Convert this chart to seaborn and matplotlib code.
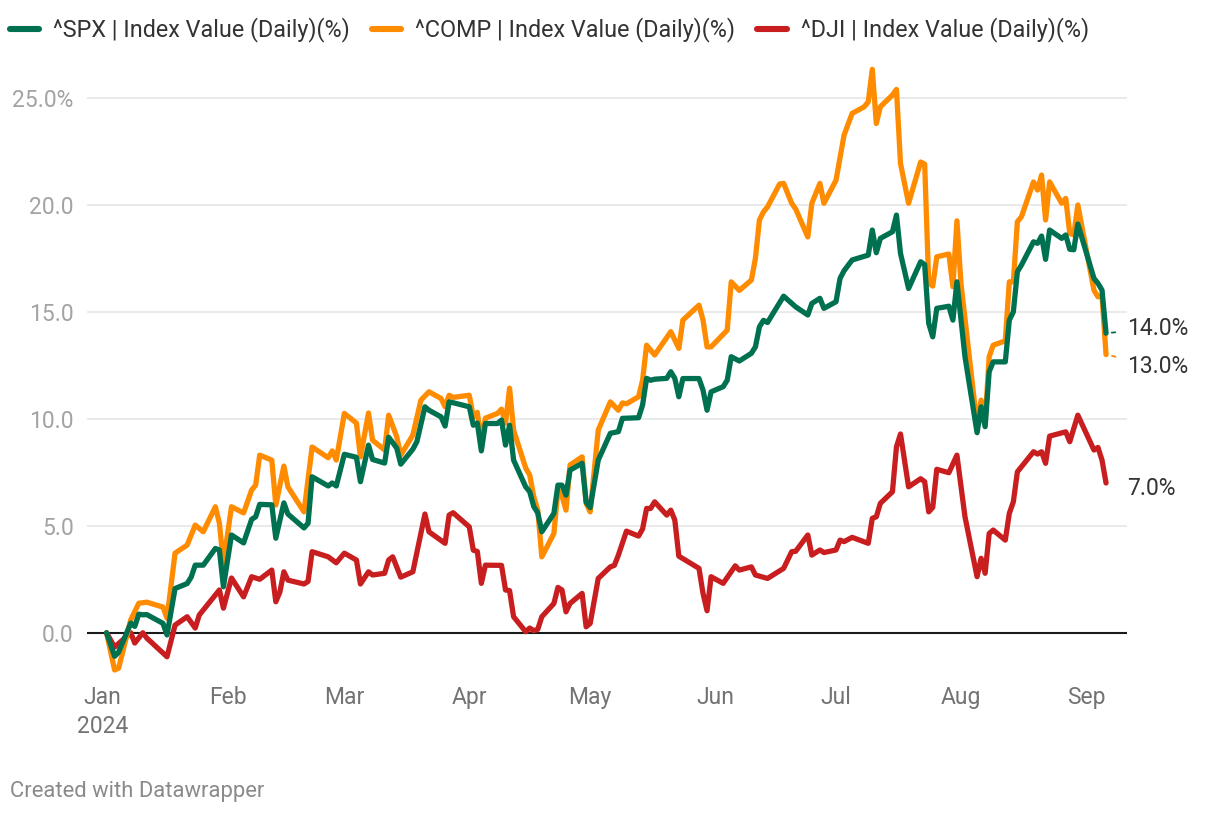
import pandas as pd
import matplotlib.pyplot as plt
import seaborn as sns
from matplotlib.lines import Line2D

# --- DATA (% change since 2 Jan 2024) ---
spx_dates = ["01-02", "01-04", "01-05", "01-08", "01-09", "01-10", "01-11", "01-12", "01-16", "01-17",
             "01-19", "01-22", "01-23", "01-24", "01-26", "01-29", "01-30", "01-31", "02-02", "02-05",
             "02-07", "02-08", "02-09", "02-12", "02-13", "02-15", "02-16", "02-20", "02-21", "02-22",
             "02-26", "02-27", "02-28", "03-01", "03-04", "03-05", "03-07", "03-08", "03-11", "03-12",
             "03-14", "03-15", "03-18", "03-19", "03-21", "03-22", "03-25", "03-26", "03-27", "03-28",
             "04-01", "04-02", "04-03", "04-04", "04-05", "04-08", "04-09", "04-10", "04-11", "04-12",
             "04-15", "04-16", "04-17", "04-18", "04-19", "04-22", "04-23", "04-24", "04-25", "04-26",
             "04-29", "04-30", "05-01", "05-03", "05-06", "05-08", "05-09", "05-13", "05-14", "05-15",
             "05-16", "05-17", "05-20", "05-21", "05-22", "05-23", "05-24", "05-28", "05-29", "05-30",
             "05-31", "06-03", "06-04", "06-05", "06-07", "06-10", "06-11", "06-12", "06-13", "06-14",
             "06-18", "06-21", "06-24", "06-25", "06-27", "06-28", "07-01", "07-02", "07-03", "07-05",
             "07-09", "07-10", "07-11", "07-12", "07-15", "07-16", "07-17", "07-19", "07-22", "07-23",
             "07-24", "07-25", "07-26", "07-29", "07-30", "07-31", "08-02", "08-05", "08-06", "08-07",
             "08-08", "08-09", "08-12", "08-13", "08-14", "08-15", "08-16", "08-19", "08-20", "08-21",
             "08-22", "08-23", "08-26", "08-27", "08-28", "08-29", "08-30", "09-03", "09-04", "09-05",
             "09-06"]
spx_values = [0.0, -1.1, -0.9, 0.45, 0.3, 0.87, 0.84, 0.85, 0.44, -0.1,
              2.07, 2.3, 2.6, 3.16, 3.16, 3.94, 3.87, 2.15, 4.57, 4.2,
              5.3, 5.42, 6.0, 5.98, 4.42, 6.07, 5.55, 4.9, 5.12, 7.29,
              6.86, 7.0, 6.86, 8.34, 8.2, 7.06, 8.77, 8.1, 7.93, 9.14,
              8.63, 7.88, 8.58, 8.93, 10.56, 10.4, 10.09, 9.66, 10.79, 10.75,
              10.56, 9.7, 9.8, 8.5, 9.78, 9.78, 9.94, 8.77, 9.7, 8.07,
              6.82, 6.59, 5.9, 5.6, 4.72, 5.58, 6.9, 6.9, 6.43, 7.6,
              7.92, 6.1, 5.85, 8.07, 9.32, 9.4, 10.02, 10.05, 10.64, 11.89,
              11.8, 11.85, 11.89, 12.2, 11.89, 11.03, 11.88, 11.88, 11.34, 10.4,
              11.26, 11.5, 11.8, 12.9, 12.7, 13.06, 13.36, 14.3, 14.6, 14.5,
              15.73, 15.23, 14.85, 15.39, 15.63, 15.16, 15.47, 16.56, 16.92, 17.42,
              17.65, 18.82, 17.76, 18.43, 18.74, 19.52, 17.73, 16.09, 17.34, 17.2,
              14.46, 13.83, 15.16, 15.26, 14.61, 16.4, 12.9, 9.35, 10.56, 9.63,
              12.2, 12.66, 12.66, 14.61, 15.0, 16.87, 17.18, 18.27, 18.2, 18.54,
              17.45, 18.82, 18.43, 18.59, 17.92, 17.9, 19.1, 16.56, 16.33, 16.01,
              14.0]

comp_dates = ["01-02", "01-04", "01-05", "01-08", "01-10", "01-12", "01-16", "01-17", "01-19", "01-22",
              "01-23", "01-24", "01-26", "01-29", "01-30", "01-31", "02-02", "02-05", "02-07", "02-08",
              "02-09", "02-12", "02-13", "02-15", "02-16", "02-20", "02-22", "02-26", "02-27", "02-28",
              "03-01", "03-04", "03-05", "03-07", "03-08", "03-11", "03-12", "03-14", "03-15", "03-18",
              "03-20", "03-22", "03-25", "03-26", "03-27", "03-28", "04-01", "04-02", "04-03", "04-04",
              "04-05", "04-08", "04-09", "04-10", "04-11", "04-12", "04-15", "04-16", "04-17", "04-18",
              "04-19", "04-22", "04-23", "04-24", "04-25", "04-26", "04-29", "04-30", "05-01", "05-03",
              "05-06", "05-08", "05-09", "05-10", "05-13", "05-14", "05-15", "05-17", "05-21", "05-23",
              "05-24", "05-28", "05-29", "05-30", "05-31", "06-04", "06-05", "06-07", "06-10", "06-11",
              "06-12", "06-13", "06-14", "06-17", "06-18", "06-20", "06-21", "06-24", "06-25", "06-27",
              "06-28", "07-01", "07-03", "07-05", "07-08", "07-09", "07-10", "07-11", "07-12", "07-15",
              "07-16", "07-17", "07-19", "07-22", "07-23", "07-24", "07-25", "07-26", "07-29", "07-30",
              "07-31", "08-01", "08-05", "08-06", "08-07", "08-08", "08-09", "08-12", "08-13", "08-14",
              "08-15", "08-16", "08-19", "08-20", "08-21", "08-22", "08-23", "08-26", "08-27", "08-28",
              "08-29", "08-30", "09-03", "09-04", "09-05", "09-06"]
comp_values = [0.0, -1.74, -1.65, 0.6, 1.38, 1.43, 1.2, 0.68, 3.72, 4.1,
               4.56, 5.03, 4.72, 5.89, 5.12, 3.25, 5.89, 5.6, 6.67, 6.9,
               8.3, 8.07, 5.97, 7.79, 6.82, 5.65, 8.68, 8.18, 8.5, 8.07,
               10.25, 9.8, 8.22, 10.27, 9.0, 8.54, 10.17, 9.16, 8.3, 9.24,
               10.87, 11.26, 10.95, 10.56, 11.1, 11.0, 11.1, 10.09, 10.3, 8.93,
               10.03, 10.25, 10.45, 9.8, 11.43, 9.47, 7.7, 7.37, 6.36, 5.73,
               3.55, 4.64, 6.67, 6.4, 5.73, 7.84, 8.22, 6.05, 5.65, 9.47,
               10.79, 10.4, 10.74, 10.7, 11.03, 11.8, 13.44, 12.98, 14.07, 13.29,
               14.61, 15.31, 14.61, 13.36, 13.36, 14.14, 16.4, 16.0, 16.48, 17.5,
               19.29, 19.67, 19.9, 20.97, 21.0, 20.07, 19.8, 18.5, 20.07, 21.0,
               20.07, 21.15, 23.26, 24.27, 24.58, 24.81, 26.33, 23.8, 24.58, 25.13,
               25.39, 21.93, 20.07, 22.0, 21.9, 16.33, 16.2, 17.57, 17.7, 16.17,
               19.25, 16.33, 9.7, 10.87, 9.86, 12.9, 13.44, 13.64, 16.4, 16.4,
               19.21, 19.44, 21.07, 20.69, 21.39, 19.29, 21.07, 20.07, 20.3, 18.66,
               18.6, 19.99, 16.01, 15.7, 15.75, 13.0]

dji_dates = ["01-02", "01-04", "01-05", "01-08", "01-09", "01-11", "01-12", "01-17", "01-19", "01-22",
             "01-24", "01-25", "01-30", "01-31", "02-02", "02-05", "02-07", "02-09", "02-12", "02-13",
             "02-14", "02-15", "02-16", "02-20", "02-21", "02-22", "02-26", "02-28", "03-01", "03-04",
             "03-05", "03-07", "03-08", "03-11", "03-12", "03-13", "03-15", "03-18", "03-21", "03-22",
             "03-26", "03-27", "03-28", "04-01", "04-02", "04-03", "04-04", "04-05", "04-09", "04-10",
             "04-11", "04-12", "04-15", "04-16", "04-17", "04-18", "04-19", "04-22", "04-23", "04-24",
             "04-25", "04-26", "04-29", "04-30", "05-01", "05-03", "05-06", "05-07", "05-08", "05-10",
             "05-13", "05-14", "05-15", "05-16", "05-17", "05-20", "05-21", "05-22", "05-23", "05-28",
             "05-29", "05-30", "05-31", "06-03", "06-06", "06-07", "06-10", "06-11", "06-14", "06-18",
             "06-20", "06-21", "06-24", "06-25", "06-27", "06-28", "07-01", "07-02", "07-03", "07-05",
             "07-09", "07-10", "07-11", "07-12", "07-15", "07-16", "07-17", "07-19", "07-22", "07-23",
             "07-24", "07-25", "07-26", "07-29", "07-31", "08-02", "08-05", "08-06", "08-07", "08-08",
             "08-09", "08-12", "08-13", "08-14", "08-15", "08-19", "08-20", "08-21", "08-22", "08-23",
             "08-27", "08-28", "08-30", "09-03", "09-04", "09-05", "09-06"]
dji_values = [0.0, -0.67, -0.5, 0.0, -0.48, 0.0, -0.25, -1.12, 0.36, 0.75,
              0.22, 0.83, 2.0, 1.15, 2.56, 1.68, 2.62, 2.5, 2.93, 1.45,
              1.9, 2.85, 2.46, 2.28, 2.4, 3.79, 3.55, 3.27, 3.72, 3.4,
              2.28, 2.85, 2.7, 2.78, 3.4, 3.55, 2.6, 2.85, 5.55, 4.72,
              4.18, 5.5, 5.61, 4.95, 3.86, 3.8, 2.31, 3.16, 3.15, 2.0,
              1.97, 0.75, 0.05, 0.22, 0.1, 0.16, 0.75, 1.37, 2.12, 2.0,
              0.98, 1.37, 1.84, 0.28, 0.44, 2.54, 3.08, 3.15, 3.63, 4.75,
              4.52, 4.85, 5.81, 5.81, 6.12, 5.5, 5.73, 5.27, 3.58, 3.01,
              1.84, 1.03, 2.62, 2.31, 3.13, 2.93, 3.08, 2.7, 2.54, 3.01,
              3.79, 3.81, 4.57, 3.63, 3.87, 3.75, 3.87, 4.33, 4.26, 4.46,
              4.18, 5.35, 5.42, 6.05, 6.59, 8.69, 9.29, 6.82, 7.2, 7.06,
              5.65, 5.86, 7.64, 7.48, 8.3, 5.42, 2.62, 3.48, 2.78, 4.64,
              4.8, 4.33, 5.58, 6.12, 7.52, 8.46, 8.35, 8.46, 7.92, 9.19,
              9.39, 8.93, 10.17, 8.54, 8.66, 8.07, 7.0]

series_names = ["^SPX | Index Value (Daily)(%)",
                "^COMP | Index Value (Daily)(%)",
                "^DJI | Index Value (Daily)(%)"]
series_colors = ["#007150", "#ff8b00", "#c81e20"]

month_ticks = ["2024-01-01", "2024-02-01", "2024-03-01", "2024-04-01", "2024-05-01",
               "2024-06-01", "2024-07-01", "2024-08-01", "2024-09-01"]
month_labels = ["Jan\n2024", "Feb", "Mar", "Apr", "May", "Jun", "Jul", "Aug", "Sep"]
y_ticks = [0, 5, 10, 15, 20, 25]
y_labels = ["0.0", "5.0", "10.0", "15.0", "20.0", "25.0%"]


def to_frame(dates, values):
    return pd.DataFrame({"date": pd.to_datetime(["2024-" + d for d in dates]),
                         "value": values})


frames = [to_frame(spx_dates, spx_values),
          to_frame(comp_dates, comp_values),
          to_frame(dji_dates, dji_values)]

sns.set_style("white")
plt.rcParams["font.family"] = ["Roboto", "DejaVu Sans"]

W, H = 1220, 816
fig = plt.figure(figsize=(W / 100, H / 100), dpi=100)
ax = fig.add_axes([87 / W, 1 - 682 / H, (1127 - 87) / W, (682 - 55) / H])

# draw DJI first, SPX last (on top)
for i in [2, 1, 0]:
    sns.lineplot(data=frames[i], x="date", y="value", color=series_colors[i],
                 lw=3.8, estimator=None, ax=ax,
                 solid_capstyle="round", solid_joinstyle="round", zorder=3 + (2 - i))

start = pd.Timestamp("2024-01-01")
ax.set_xlim(start - pd.Timedelta(days=3.85), start + pd.Timedelta(days=254.2))
ax.set_ylim(-2.3, 27)

ax.set_yticks(y_ticks)
ax.set_yticklabels(y_labels)
ax.set_xticks(pd.to_datetime(month_ticks))
ax.set_xticklabels(month_labels)
for t in ax.get_xticklabels():
    t.set_linespacing(1.35)
ax.tick_params(axis="y", length=0, pad=9.5, labelsize=16.5, labelcolor="#a3a3a3")
ax.tick_params(axis="x", length=0, pad=3, labelsize=16.5, labelcolor="#737373")
ax.set_xlabel("")
ax.set_ylabel("")
ax.grid(axis="y", color="#e4e4e4", lw=1.1)
ax.grid(axis="x", visible=False)
ax.axhline(0, color="#1a1a1a", lw=1.5, zorder=2)
sns.despine(ax=ax, left=True, bottom=True)

# end labels
label_offsets = [3.5, -8.5, -4.0]
for i, df in enumerate(frames):
    last = df.iloc[-1]
    arrow = None
    if i < 2:
        arrow = dict(arrowstyle="-", color=series_colors[i], lw=1.3,
                     linestyle=(0, (2, 2)), shrinkA=6, shrinkB=3)
    ax.annotate(f"{last['value']:.1f}%", xy=(last["date"], last["value"]),
                xytext=(15, label_offsets[i]), textcoords="offset points",
                ha="left", va="center", fontsize=16.5, color="#333333",
                arrowprops=arrow, annotation_clip=False)

handles = [Line2D([0], [0], color=c, lw=4.4, solid_capstyle="round") for c in series_colors]
fig.legend(handles, series_names, loc="center left", bbox_to_anchor=(10 / W, 1 - 30 / H),
           ncol=3, frameon=False, fontsize=16.8, handlelength=1.25, handletextpad=0.6,
           columnspacing=0.95, borderaxespad=0, borderpad=0, labelcolor="#333333")

fig.text(10 / W, 1 - 792 / H, "Created with Datawrapper", fontsize=15.8,
         color="#8a8a8a", va="center", ha="left")

fig.savefig("out.png", dpi=100)
